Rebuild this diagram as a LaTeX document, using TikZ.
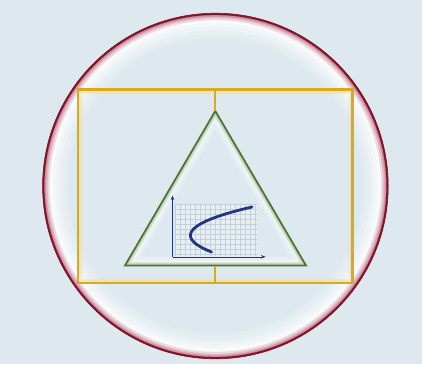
\documentclass[tikz,border=0pt]{standalone}
\usetikzlibrary{arrows.meta}
\definecolor{bgc}{RGB}{221,233,239}
\definecolor{ringred}{RGB}{128,22,40}
\definecolor{ringpink}{RGB}{200,120,145}
\definecolor{goldc}{RGB}{218,170,30}
\definecolor{greenc}{RGB}{74,120,50}
\definecolor{bluec}{RGB}{32,52,130}
\definecolor{gridc}{RGB}{195,208,218}
\tikzset{
  rectline/.style={draw=goldc, line width=2.2pt},
  triline/.style={draw=greenc, line width=1.8pt, line join=miter},
  axisline/.style={draw=bluec, line width=0.6pt, -{Stealth[length=4.5pt,width=3.5pt]}},
  curveline/.style={draw=bluec, line width=2.8pt, line cap=round},
  connline/.style={draw=goldc, line width=2pt},
}
\begin{document}
\begin{tikzpicture}[x=1pt,y=-1pt]
\useasboundingbox (0,0) rectangle (422,364);
\fill[bgc] (0,0) rectangle (422,364);
% circle with inner glow
\coordinate (cc) at (215.4,186);
\begin{scope}
  \clip (cc) circle[radius=172.8];
  \foreach \w/\o in {50/0.15,42/0.2,34/0.25,26/0.35,20/0.45} {
    \draw[white, opacity=\o, line width=\w pt] (cc) circle[radius=172.8];
  }
  \foreach \w/\o in {14/0.25,10/0.35,7/0.5,5/0.7} {
    \draw[ringpink, opacity=\o, line width=\w pt] (cc) circle[radius=172.8];
  }
  \draw[ringred, line width=3.5pt] (cc) circle[radius=172.8];
\end{scope}
\draw[ringred, line width=0.6pt] (cc) circle[radius=172.8];
% rectangle
\coordinate (rtl) at (78,89.5);
\coordinate (rbr) at (352.5,283);
\coordinate (rtm) at (215.3,89.5);
\coordinate (rbm) at (215.3,283);
\begin{scope}
  \clip (rtl) rectangle (rbr);
  \foreach \w/\o in {11/0.15,8/0.25,6/0.4} {
    \draw[goldc!40!white, opacity=\o, line width=\w pt] (rtl) rectangle (rbr);
  }
\end{scope}
\draw[rectline] (rtl) rectangle (rbr);
% triangle
\coordinate (ta) at (215.3,111);
\coordinate (tl) at (125,265.5);
\coordinate (tr) at (306,265.5);
\coordinate (tbm) at (215.3,265.5);
\begin{scope}
  \clip (ta) -- (tl) -- (tr) -- cycle;
  \foreach \w/\o in {18/0.25,12/0.3,8/0.35} {
    \draw[white, opacity=\o, line width=\w pt, line join=miter] (ta) -- (tl) -- (tr) -- cycle;
  }
  \foreach \w/\o in {7/0.25,5/0.4} {
    \draw[greenc!50!white, opacity=\o, line width=\w pt, line join=miter] (ta) -- (tl) -- (tr) -- cycle;
  }
\end{scope}
\draw[triline] (ta) -- (tl) -- (tr) -- cycle;
% vertical connectors
\draw[connline] (rtm) -- (ta);
\draw[connline] (tbm) -- (rbm);
% graph
\coordinate (go) at (172.5,256.8);
\coordinate (gy) at (172.5,195.5);
\coordinate (gx) at (265.5,256.8);
\fill[white, opacity=0.3] (175.5,204) rectangle (257,256);
\foreach \gx in {175.5,180.5,...,257} {
  \draw[gridc, line width=0.3pt] (\gx,204) -- (\gx,256);
}
\foreach \gy in {204,209,...,256} {
  \draw[gridc, line width=0.3pt] (175.5,\gy) -- (257,\gy);
}
\draw[axisline] (go) -- (gy);
\draw[axisline] (go) -- (gx);
\draw[curveline] plot[domain=207:252, samples=50, smooth] ({190.5+0.0762*(\x-235.4)^2},{\x});
\end{tikzpicture}
\end{document}
